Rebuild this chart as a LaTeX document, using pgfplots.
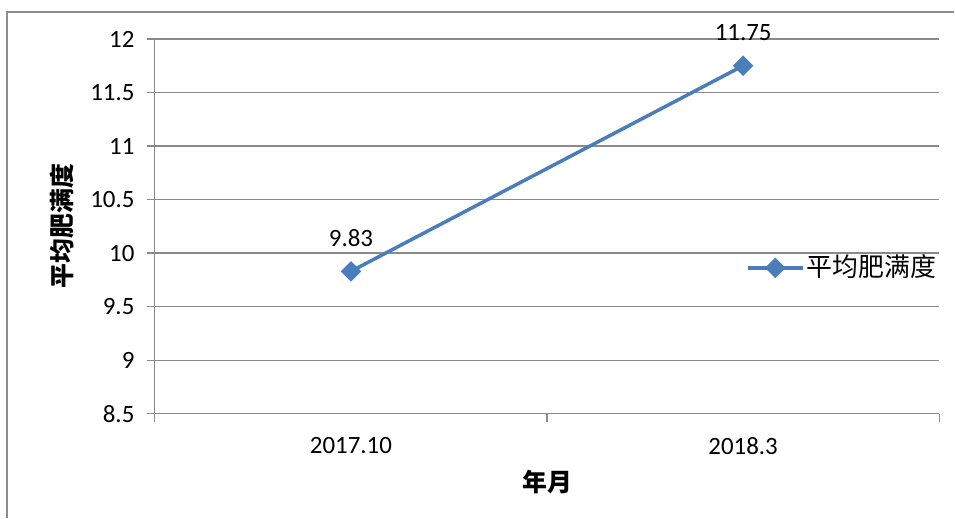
\documentclass[border=0pt]{standalone}
\usepackage{fontspec}
\setmainfont{Carlito}
\newfontfamily\cjk{Noto Sans CJK SC}
\usepackage{pgfplots}
\pgfplotsset{compat=1.18}
\definecolor{series}{HTML}{4A7EBB}
\definecolor{gridgrey}{HTML}{8A8A8A}
\definecolor{framegrey}{HTML}{8C8C8C}

\begin{document}
\fontsize{25}{30}\selectfont
\begin{tikzpicture}
% page extent and outer frame
\path (-155bp,-104bp) rectangle (800bp,414bp);
\draw[framegrey, line width=1.5bp] (-148bp,-104bp) -- (-148bp,402bp) -- (800bp,402bp);
\begin{axis}[
  at={(0,0)}, anchor=south west,
  scale only axis, width=785bp, height=375bp,
  xmin=-0.5, xmax=1.5, ymin=8.5, ymax=12,
  clip=false,
  axis lines*=left,
  axis line style={gridgrey, line width=1.2bp, -},
  xtick={0,1}, xticklabels={2017.10,2018.3},
  major x tick style={draw=none},
  minor xtick={-0.5,0.5,1.5},
  ytick={8.5,9,9.5,10,10.5,11,11.5,12},
  yticklabels={8.5,9,9.5,10,10.5,11,11.5,12},
  tick align=outside,
  major tick length=8bp, minor tick length=8bp,
  tick style={gridgrey, line width=1.2bp},
  ymajorgrids,
  grid style={gridgrey, line width=1.2bp},
  yticklabel style={xshift=-4bp},
  xticklabel style={yshift=-7bp},
  xlabel={\cjk\bfseries 年月},
  ylabel={\cjk\bfseries 平均肥满度},
  xlabel style={at={(rel axis cs:0.5,0)}, anchor=center, yshift=-68bp},
  ylabel style={at={(rel axis cs:0,0.5)}, anchor=center, rotate=0, yshift=93bp},
  legend style={at={(rel axis cs:0.754,0.389)}, anchor=west, draw=none, fill=none,
    inner sep=0pt, font={\cjk\fontsize{26}{30}\selectfont}},
  legend image code/.code={%
    \draw[#1, mark repeat=2, mark phase=2]
      plot coordinates {(0bp,0bp) (27bp,0bp) (55bp,0bp)};},
  /tikz/every even column/.append style={column sep=3bp},
  every node near coord/.append style={anchor=south, yshift=15bp, text=black},
]
\addplot[series, line width=3.5bp, mark=square*,
  mark options={rotate=45, scale=1, solid, fill=series},
  mark size=5.5bp,
  point meta=explicit symbolic, nodes near coords]
  coordinates {(0,9.83) [9.83] (1,11.75) [11.75]};
\addlegendentry{平均肥满度}
\end{axis}
\end{tikzpicture}
\end{document}
